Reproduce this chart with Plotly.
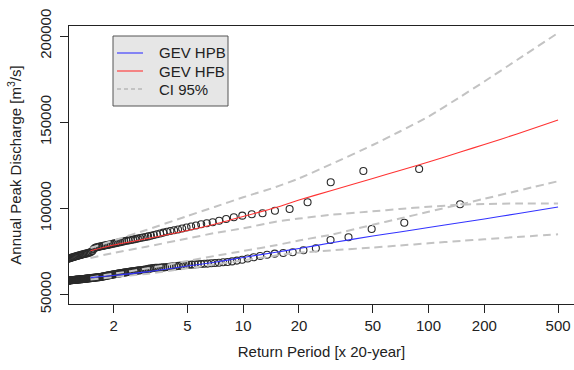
import plotly.graph_objects as go

# ---------------- data ----------------
# observed annual peaks, sorted descending (rank 1 = largest)
obs_hpb = [102380, 91710, 88060, 83250, 81680, 76870, 75710, 74550, 74140, 73790,
           73100, 72400, 71700, 70950, 70250, 69730, 69270, 68920, 68750, 68510,
           68340, 68170, 67990, 67880, 67760, 67640, 67520, 67410, 67290, 67180,
           67010, 66830, 66660, 66480, 66370, 66250, 66140, 66020, 65900, 65790,
           65670, 65610, 65560, 65500, 65440, 65270, 65090, 64920, 64740, 64570,
           64400, 64280, 64160, 64050, 63930, 63820, 63700, 63580, 63470, 63350,
           63240, 63120, 63000, 62890, 62770, 62660, 62540, 62420, 62310, 62190,
           62080, 61960, 61840, 61730, 61610, 61500, 61380, 61260, 61150, 61030,
           60920, 60800, 60680, 60570, 60450, 60340, 60220, 60160, 60100, 60050,
           59990, 59930, 59870, 59820, 59760, 59700, 59640, 59580, 59530, 59470,
           59410, 59360, 59300, 59250, 59200, 59150, 59100, 59050, 59000, 58960,
           58920, 58880, 58840, 58800, 58760, 58720, 58680, 58640, 58600, 58560,
           58520, 58480, 58440, 58400, 58360, 58320, 58280, 58240, 58200, 58150,
           58100, 58050, 58000, 57950, 57900, 57850, 57800, 57700, 57600, 57500,
           57400, 57300, 57100, 56900, 56600, 56200, 55500]

obs_hfb = [122900, 121700, 115150, 103550, 99660, 98670, 97160, 96580, 95790, 94860,
           93860, 92870, 91950, 91370, 90790, 90090, 89510, 88930, 88350, 87770,
           87360, 86900, 86440, 85970, 85450, 85040, 84580, 84120, 83770, 83420,
           83130, 82840, 82490, 82200, 81910, 81680, 81450, 81220, 80930, 80640,
           80400, 80170, 79940, 79710, 79480, 79240, 79010, 78780, 78610, 78430,
           78200, 78030, 77850, 77620, 77450, 77210, 76460, 75300, 74720, 74430,
           74140, 73970, 73790, 73560, 73390, 73210, 72980, 72810, 72630, 72400,
           72230, 72050, 71820, 71650, 71470, 71240, 71070, 70900, 70700, 70500,
           70300, 70100, 69800, 69500, 69200, 68800, 68300, 67500]

# Weibull plotting positions: T = (n + 1) / rank
T_hpb = [(len(obs_hpb) + 1) / r for r in range(1, len(obs_hpb) + 1)]
T_hfb = [(len(obs_hfb) + 1) / r for r in range(1, len(obs_hfb) + 1)]

# fitted curves and 95% confidence bands
T_curve = [1.5, 2, 3, 5, 7, 10, 15, 20, 30, 50, 70, 100, 150, 200, 300, 500]
gev_hpb = [59870, 61090, 63180, 66600, 68750, 71530, 74600, 76750,
           80060, 84000, 86320, 88930, 91830, 93860, 96930, 100820]
gev_hfb = [75470, 78780, 82380, 87190, 90840, 95310, 100530, 104880,
           110390, 117350, 121990, 126920, 132890, 137070, 143160, 151280]
ci_hfb_up = [77040, 81390, 87480, 95600, 100820, 106450, 112400, 117410,
             125760, 136780, 144610, 153310, 165030, 173610, 186080, 201800]
ci_hfb_lo = [71300, 74200, 77790, 82550, 85680, 88470, 92300, 94090,
             96300, 98330, 99660, 100990, 102150, 102560, 102910, 102850]
ci_hpb_up = [59990, 62130, 65090, 69500, 72400, 75300, 78660, 81390,
             84810, 90500, 94150, 98040, 102440, 105580, 110100, 115780]
ci_hpb_lo = [58770, 60160, 62020, 65270, 67470, 69850, 72630, 74310,
             75650, 77330, 78490, 79770, 81160, 82090, 83420, 84990]

x_ticks = [2, 5, 10, 20, 50, 100, 200, 500]
y_ticks = [50000, 100000, 150000, 200000]

legend_names = ["GEV HPB", "GEV HFB", "CI 95%"]

# ---------------- figure ----------------
FONT = "Liberation Sans, Arial, Helvetica, sans-serif"
TXT = "#222222"
CI_COLOR = "#c3c3c3"
BLUE = "#3333ff"
RED = "#ff3333"
W, H = 574, 370
ML, MR, MT, MB = 69, 0, 26, 66
PW, PH = W - ML - MR, H - MT - MB


def px(x):  # pixel -> paper x
    return (x - ML) / PW


def py(y):  # pixel -> paper y
    return (H - MB - y) / PH


fig = go.Figure()

for T, obs in ((T_hpb, obs_hpb), (T_hfb, obs_hfb)):
    fig.add_trace(go.Scatter(
        x=T, y=obs, mode="markers", showlegend=False, hoverinfo="skip",
        marker=dict(symbol="circle-open", size=7, color="#2a2a2a",
                    line=dict(width=1.1, color="#2a2a2a"))))

for ci in (ci_hfb_up, ci_hfb_lo, ci_hpb_up, ci_hpb_lo):
    fig.add_trace(go.Scatter(
        x=T_curve, y=ci, mode="lines", name="CI 95%", showlegend=False,
        line=dict(color=CI_COLOR, width=2, dash="8px,5px", shape="spline",
                  smoothing=0.6)))

fig.add_trace(go.Scatter(
    x=T_curve, y=gev_hpb, mode="lines", name="GEV HPB", showlegend=False,
    line=dict(color=BLUE, width=1.1, shape="spline", smoothing=0.6)))
fig.add_trace(go.Scatter(
    x=T_curve, y=gev_hfb, mode="lines", name="GEV HFB", showlegend=False,
    line=dict(color=RED, width=1.1, shape="spline", smoothing=0.6)))

# legend box drawn as in base R's legend()
shapes = [dict(type="rect", xref="paper", yref="paper",
               x0=px(113), x1=px(228), y0=py(106), y1=py(36),
               fillcolor="#e6e6e6", line=dict(color="#555555", width=1),
               layer="above")]
annotations = []
styles = [dict(color=BLUE, width=1.1), dict(color=RED, width=1.1),
          dict(color=CI_COLOR, width=2, dash="4px,3px")]
for i, (name, st) in enumerate(zip(legend_names, styles)):
    yy = 53 + 18 * i
    shapes.append(dict(type="line", xref="paper", yref="paper",
                       x0=px(117), x1=px(143), y0=py(yy), y1=py(yy),
                       line=st, layer="above"))
    annotations.append(dict(xref="paper", yref="paper", x=px(157), y=py(yy),
                            xanchor="left", yanchor="middle", text=name,
                            showarrow=False,
                            font=dict(family=FONT, size=15, color=TXT)))

fig.update_layout(
    width=W, height=H,
    margin=dict(l=ML, r=MR, t=MT, b=MB),
    paper_bgcolor="white", plot_bgcolor="white",
    font=dict(family=FONT, size=15, color=TXT),
    showlegend=False, hovermode=False,
    shapes=shapes, annotations=annotations,
    xaxis=dict(type="log", range=[0.06, 2.785], automargin=False,
               tickmode="array", tickvals=x_ticks,
               ticktext=[str(v) for v in x_ticks],
               ticks="outside", ticklen=8, tickwidth=1, tickcolor=TXT,
               showline=True, linecolor=TXT, linewidth=1, mirror=True,
               showgrid=False, zeroline=False,
               title=dict(text="Return Period [x 20-year]", standoff=13,
                          font=dict(size=15))),
    yaxis=dict(range=[44560, 205800], automargin=False,
               tickmode="array", tickvals=y_ticks,
               ticktext=[str(v) for v in y_ticks], tickangle=-90,
               ticklabelstandoff=3,
               ticks="outside", ticklen=8, tickwidth=1, tickcolor=TXT,
               showline=True, linecolor=TXT, linewidth=1,
               showgrid=False, zeroline=False,
               title=dict(text="Annual Peak Discharge [m<sup>3</sup>/s]",
                          standoff=11, font=dict(size=15))),
)

# page has the default 8px body margin; remove it so the figure fills the window
fig.write_html("out.html",
               config={"displayModeBar": False, "staticPlot": True},
               post_script="document.body.style.margin='0';"
                           "document.body.style.overflow='hidden';")
